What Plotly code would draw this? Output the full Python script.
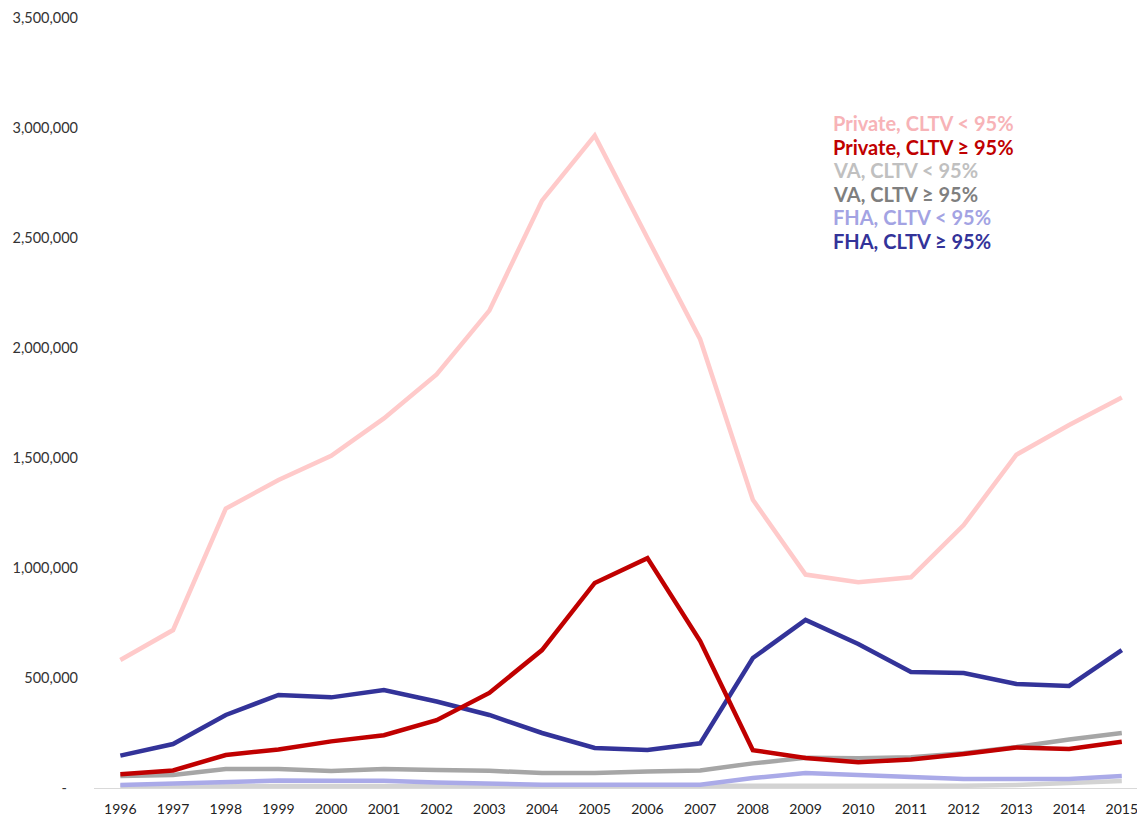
import plotly.graph_objects as go

years = list(range(1996, 2016))

series_names = [
    "Private, CLTV < 95%",
    "Private, CLTV ≥ 95%",
    "VA, CLTV < 95%",
    "VA, CLTV ≥ 95%",
    "FHA, CLTV < 95%",
    "FHA, CLTV ≥ 95%",
]

private_lt95 = [582000, 718000, 1270000, 1400000, 1510000, 1680000, 1880000, 2170000, 2670000, 2965000,
                2500000, 2040000, 1310000, 970000, 935000, 958000, 1195000, 1515000, 1650000, 1775000]
private_ge95 = [62000, 80000, 150000, 175000, 212000, 240000, 308000, 432000, 627000, 932000,
                1045000, 668000, 172000, 136000, 117000, 130000, 155000, 184000, 177000, 210000]
va_lt95 = [9000, 9000, 9000, 9000, 9000, 9000, 9000, 9000, 8000, 8000,
           8000, 8000, 8000, 8000, 8000, 9000, 10000, 14000, 23000, 32000]
va_ge95 = [55000, 59000, 86000, 86000, 77000, 86000, 82000, 78000, 68000, 68000,
           75000, 80000, 112000, 137000, 135000, 140000, 158000, 186000, 220000, 250000]
fha_lt95 = [14000, 20000, 26000, 34000, 33000, 33000, 25000, 18000, 15000, 15000,
            15000, 15000, 45000, 68000, 59000, 50000, 41000, 41000, 41000, 55000]
fha_ge95 = [147000, 200000, 332000, 423000, 412000, 445000, 393000, 332000, 250000, 182000,
            173000, 203000, 591000, 764000, 655000, 527000, 523000, 473000, 464000, 627000]

y_ticks = [0, 500000, 1000000, 1500000, 2000000, 2500000, 3000000, 3500000]
y_ticktext = ["-&nbsp;&nbsp;&nbsp;", "500,000", "1,000,000", "1,500,000", "2,000,000",
              "2,500,000", "3,000,000", "3,500,000"]

line_colors = ["#FFCACA", "#C00000", "#D3D3D3", "#A6A6A6", "#AAAAE8", "#333399"]
text_colors = ["#F7B3B7", "#C00000", "#C0C0C0", "#7F7F7F", "#A3A3E3", "#333399"]
data = [private_lt95, private_ge95, va_lt95, va_ge95, fha_lt95, fha_ge95]

draw_order = [0, 2, 4, 3, 5, 1]

fig = go.Figure()
for i in draw_order:
    fig.add_trace(go.Scatter(
        x=years, y=data[i], mode="lines", name=series_names[i],
        line=dict(color=line_colors[i], width=4.5), showlegend=False,
    ))

# page has an 8px body margin; figure starts at (8, 8)
OFF = 8
W, H = 1137, 812
ml, mr, mt, mb = 86, 0, 10, 32
pw, ph = W - ml - mr, H - mt - mb

for k, name in enumerate(series_names):
    px = 831 - OFF
    py = 123 + k * 23.6 - OFF
    fig.add_annotation(
        x=(px - ml) / pw, y=1 - (py - mt) / ph, xref="paper", yref="paper",
        text="<b>" + name + "</b>", showarrow=False,
        xanchor="left", yanchor="middle",
        font=dict(family="Lato", size=20, color=text_colors[k]),
    )

fig.update_layout(
    width=W, height=H,
    margin=dict(l=ml, r=mr, t=mt, b=mb),
    plot_bgcolor="white", paper_bgcolor="white",
    font=dict(family="Lato", size=14, color="#333333"),
    xaxis=dict(
        range=[1995.5, 2015.44], tickmode="array", tickvals=years,
        ticktext=[str(y) for y in years], showgrid=False, zeroline=False,
        showline=True, linecolor="#D9D9D9", linewidth=1, ticks="",
        ticklabelstandoff=8,
        tickfont=dict(family="Lato", size=14, color="#222222"),
    ),
    yaxis=dict(
        range=[0, 3500000], tickmode="array", tickvals=y_ticks, ticktext=y_ticktext,
        showgrid=False, zeroline=False, showline=False, ticks="",
        ticklabelstandoff=15,
        tickfont=dict(family="Lato", size=14.5, color="#333333"),
    ),
)

fig.write_html("out.html")
